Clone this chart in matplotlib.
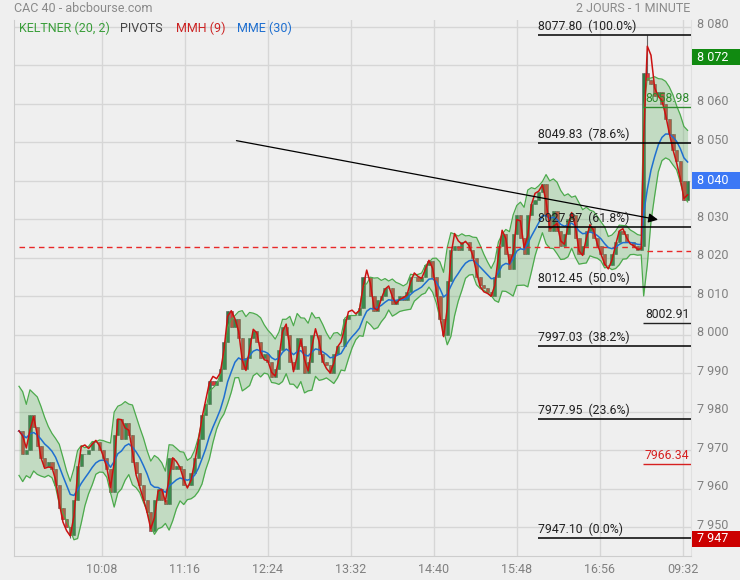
import numpy as np
import matplotlib.pyplot as plt
import matplotlib.transforms as mtransforms
from matplotlib.patches import Rectangle

plt.rcParams['font.family'] = ['Roboto', 'DejaVu Sans']

# CAC 40 closes, one value every 3 minutes
# day 1 : 09:00 -> 17:30
day1_close = [
    7975, 7969, 7970, 7979, 7976, 7971, 7968, 7966, 7967, 7965,
    7961, 7955, 7952, 7950, 7948, 7957, 7966, 7969, 7969, 7970,
    7972, 7972, 7970, 7968, 7965, 7959, 7974, 7978, 7973, 7977,
    7974, 7967, 7964, 7961, 7957, 7954, 7949, 7957, 7960, 7957,
    7956, 7968, 7965, 7966, 7965, 7961, 7961, 7964, 7968, 7973,
    7979, 7982, 7988, 7987, 7988, 7991, 7998, 8006, 8002, 8004,
    7999, 7991, 7994, 7999, 8001, 7998, 7994, 7995, 7993, 7989,
    7991, 7996, 8002, 8000, 7993, 7991, 7999, 7997, 7990, 7993,
    8000, 8000, 7995, 7993, 7992, 7990, 7995, 7997, 7997, 8004,
    8005, 8005, 8005, 8007, 8015, 8015, 8010, 8006, 8009, 8010,
    8012, 8012, 8008, 8009, 8010, 8009, 8011, 8015, 8015, 8014,
    8015, 8018, 8019, 8015, 8010, 8004, 8000, 8014, 8022, 8023,
    8022, 8024, 8024, 8022, 8020, 8015, 8013, 8012, 8011, 8010,
    8015, 8023, 8026, 8021, 8017, 8026, 8031, 8025, 8021, 8031,
    8034, 8035, 8037, 8039, 8031, 8027, 8032, 8027, 8023, 8026,
    8030, 8031, 8025, 8021, 8023, 8027, 8028, 8025, 8023, 8021,
    8018, 8018, 8021, 8024, 8027, 8026, 8024, 8024, 8023, 8022,
    8023,
]
# day 2 : 09:00 -> 09:36
day2_close = [8068, 8066, 8065, 8062, 8063, 8060, 8056, 8052, 8048, 8045,
              8040, 8035, 8040]

day_low = 7947.10
day_high = 8077.80

bar_minutes = 3
day2_start = 512  # x of 09:00 on the second day

time_ticks = [68, 136, 204, 272, 340, 408, 476, 544]
time_labels = ['10:08', '11:16', '12:24', '13:32', '14:40', '15:48', '16:56', '09:32']

# 8 070 and 8 040 are hidden behind the coloured price boxes
price_ticks = [7950, 7960, 7970, 7980, 7990, 8000, 8010, 8020, 8030, 8050, 8060, 8080]

fib_levels = [8077.80, 8049.83, 8027.87, 8012.45, 7997.03, 7977.95, 7947.10]
fib_pcts = ['100.0%', '78.6%', '61.8%', '50.0%', '38.2%', '23.6%', '0.0%']

pivot_day1 = 8022.7
pivot_day2 = 8021.6
level_values = [8058.98, 8002.91, 7966.34]
level_colors = ['#2e8b2e', '#222222', '#d62020']

box_values = [8072, 8040, 7947]
box_colors = ['#118a11', '#3c78f5', '#cc0000']

trend_start = (176, 8050.5)
trend_end = (526, 8029.7)


def ema(v, span, seed=None):
    a = 2.0 / (span + 1)
    out = np.empty(len(v))
    out[0] = v[0] if seed is None else seed
    for i in range(1, len(v)):
        out[i] = a * v[i] + (1 - a) * out[i - 1]
    return out


def wma(v, n):
    w = np.arange(1, n + 1, dtype=float)
    out = np.array(v, dtype=float)
    for i in range(n - 1, len(v)):
        out[i] = np.dot(v[i - n + 1:i + 1], w) / w.sum()
    return out


def hma(v, n):
    half = wma(v, max(n // 2, 1))
    full = wma(v, n)
    return wma(2 * half - full, max(int(np.sqrt(n)), 1))


close = np.array(day1_close + day2_close, dtype=float)
x = np.concatenate([np.arange(len(day1_close)) * bar_minutes,
                    day2_start + np.arange(len(day2_close)) * bar_minutes])
opens = np.r_[close[0], close[:-1]]
highs = np.maximum(opens, close)
lows = np.minimum(opens, close)
lows[np.argmin(close)] = day_low
highs[len(day1_close) + 1] = day_high

# indicators (periods in minutes -> bars)
k_span = round(20 / bar_minutes)
tr = highs - lows
mid = ema(close, k_span)
atr = ema(tr, k_span, seed=tr[:k_span].mean() * 1.5)
upper = mid + 2 * atr
lower = mid - 2 * atr
mme = ema(close, round(30 / bar_minutes))
mmh = hma(close, 4)

bg = '#efefef'
fig = plt.figure(figsize=(7.4, 5.8), dpi=100, facecolor=bg)
ax = fig.add_axes([14 / 740, 24 / 580, 677 / 740, 536 / 580], facecolor=bg)
ax.set_xlim(-4.1, 550.8)
ax.set_ylim(7942.5, 8081.7)

ax.set_xticks(time_ticks)
ax.set_xticklabels(time_labels)
ax.set_yticks(price_ticks)
ax.set_yticklabels([f'{v:,}'.replace(',', ' ') for v in price_ticks])
ax.yaxis.tick_right()
ax.tick_params(length=0, colors='#808080', labelsize=9)
ax.tick_params(axis='y', pad=4.5)
ax.tick_params(axis='x', pad=5)
lift = mtransforms.ScaledTranslation(0, 3.5 / 100, fig.dpi_scale_trans)
for lab in ax.get_yticklabels():
    lab.set_transform(lab.get_transform() + lift)
ax.yaxis.remove_overlapping_locs = False
ax.set_yticks(np.arange(7950, 8081, 10), minor=True)
ax.tick_params(which='minor', length=0)
ax.grid(True, which='major', axis='x', color='#d6d6d6', lw=1)
ax.grid(True, which='minor', axis='y', color='#d6d6d6', lw=1)
ax.set_axisbelow(True)
for side in ['left', 'bottom']:
    ax.spines[side].set_color('#cdcdcd')
ax.spines['right'].set_color('#e0e0e0')
ax.spines['top'].set_visible(False)

# pivots
ax.hlines(pivot_day1, x[0], x[len(day1_close) - 1], colors='#e82828', lw=1,
          linestyles=(0, (4, 3)), zorder=4)
ax.hlines(pivot_day2, day2_start + 3, 550.8, colors='#e82828', lw=1,
          linestyles=(0, (4, 3)), zorder=4)

# candles
up = close >= opens
ax.vlines(x, lows, highs, color='#666666', lw=0.8, zorder=2)
ax.bar(x[up], (close - opens)[up], bottom=opens[up], width=2.6,
       color='#2e7d46', edgecolor='#5a5a5a', lw=0.4, zorder=2)
ax.bar(x[~up], (close - opens)[~up], bottom=opens[~up], width=2.6,
       color='#d83a3a', edgecolor='#6a4a4a', lw=0.4, zorder=2)

# keltner
ax.fill_between(x, lower, upper, color='#5cae5c', alpha=0.3, lw=0, zorder=3)
ax.plot(x, upper, color='#4caa4c', lw=0.9, zorder=3.5)
ax.plot(x, lower, color='#4caa4c', lw=0.9, zorder=3.5)
ax.plot(x, mme, color='#1f6fd0', lw=1.1, zorder=4.5)
ax.plot(x, mmh, color='#cc1111', lw=1.1, zorder=5)

# fibonacci retracement
fib_x0 = 425.4
for lv, pct in zip(fib_levels, fib_pcts):
    ax.hlines(lv, fib_x0, 550.8, colors='black', lw=1.1, zorder=6)
    ax.annotate(f'{lv:.2f}  ({pct})', (fib_x0, lv), xytext=(0, 1.5),
                textcoords='offset points', va='bottom', ha='left',
                fontsize=8.8, color='#222222', zorder=7)

# day-2 levels
for lv, c in zip(level_values, level_colors):
    ax.hlines(lv, 511.5, 550.8, colors=c, lw=1, zorder=6)
    ax.annotate(f'{lv:.2f}', (513, lv), xytext=(0, 1.5),
                textcoords='offset points', va='bottom', ha='left',
                fontsize=8.8, color=c, zorder=7)

# trend line
ax.annotate('', xy=trend_end, xytext=trend_start,
            arrowprops=dict(arrowstyle='-|>', color='black', lw=0.9,
                            mutation_scale=14), zorder=6)

# price boxes on the right axis
trans = mtransforms.blended_transform_factory(ax.transAxes, ax.transData)
for v, c in zip(box_values, box_colors):
    ax.add_patch(Rectangle((1.0015, v - 2.1), 0.075, 4.2, transform=trans,
                           facecolor=c, edgecolor='none', clip_on=False, zorder=10))
    ax.text(683 / 677, v, f'{v:,}'.replace(',', ' '), transform=trans,
            color='white', fontsize=9, va='center', ha='left', zorder=11)

# legend
legend_items = [('KELTNER (20, 2)', '#3a9e3a', 0.0074),
                ('PIVOTS', '#444444', 0.1566),
                ('MMH (9)', '#cc2222', 0.2393),
                ('MME (30)', '#1e6fd0', 0.3294)]
for txt, c, xp in legend_items:
    ax.text(xp, 0.985, txt, transform=ax.transAxes, color=c, fontsize=9,
            va='center', ha='left', zorder=8)

fig.text(14 / 740, 1 - 8 / 580, 'CAC 40 - abcbourse.com', color='#8a8a8a',
         fontsize=9, va='center', ha='left')
fig.text(690 / 740, 1 - 8 / 580, '2 JOURS - 1 MINUTE', color='#8a8a8a',
         fontsize=9, va='center', ha='right')

fig.savefig('out.png', dpi=100, facecolor=bg)
